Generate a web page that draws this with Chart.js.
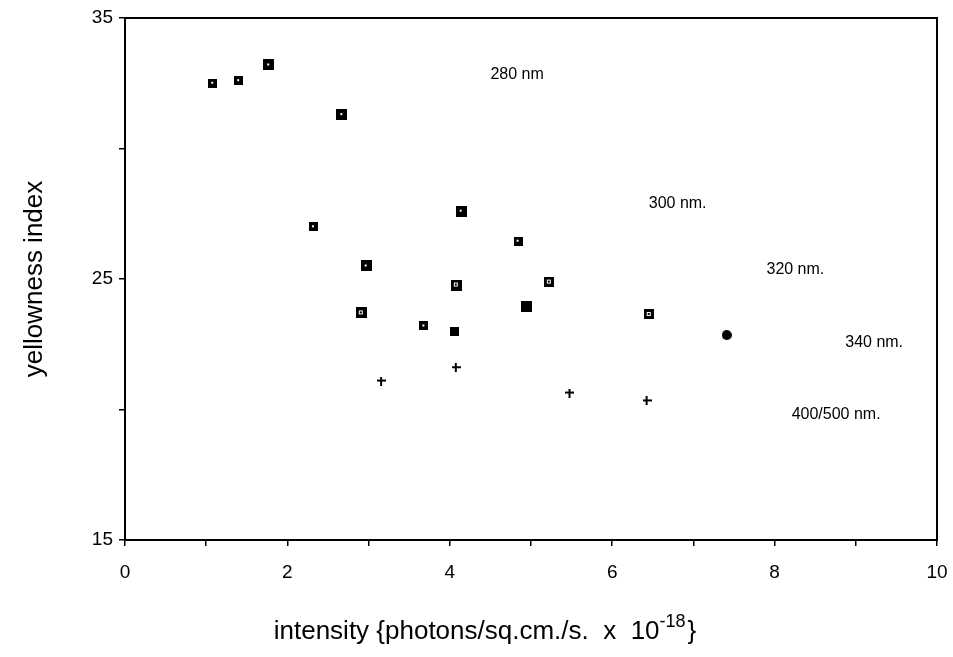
<!DOCTYPE html>
<html>
<head>
<meta charset="utf-8">
<script src="https://cdn.jsdelivr.net/npm/chart.js@4.4.0/dist/chart.umd.min.js"></script>
<style>
html,body{margin:0;padding:0;background:#fff;}
#wrap{width:953px;height:657px;}
</style>
</head>
<body>
<div id="wrap"><canvas id="c" width="953" height="657"></canvas></div>
<script>
// ---- data ----
const seriesNames = ['280 nm', '300 nm.', '320 nm.', '340 nm.', '400/500 nm.'];
const x280 = [1.08, 1.40, 1.77, 2.67];
const y280 = [32.5, 32.6, 33.2, 31.3];
const x300 = [2.32, 2.97, 4.14, 4.84];
const y300 = [27.0, 25.5, 27.6, 26.45];
const x320 = [2.91, 4.08, 5.22, 6.45];
const y320 = [23.7, 24.77, 24.9, 23.66];
const x340 = [3.68, 4.06, 4.94, 7.41];
const y340 = [23.2, 22.97, 23.93, 22.85];
const x400 = [3.16, 4.08, 5.48, 6.43];
const y400 = [21.09, 21.6, 20.63, 20.33];
const xTickLabels = ['0', '2', '4', '6', '8', '10'];
const yTickLabels = ['15', '25', '35'];
// where each series name is written (data coordinates)
const labelAnchorX = [4.50, 6.45, 7.90, 8.87, 8.21];
const labelAnchorY = [32.82, 27.9, 25.35, 22.55, 19.79];

// ---- styles ----
const FONT = '"Liberation Sans", Arial, Helvetica, sans-serif';
function marker(type, s) {
  const c = document.createElement('canvas');
  c.width = s; c.height = s;
  const g = c.getContext('2d');
  g.fillStyle = '#000';
  if (type === 'circle') {
    g.beginPath(); g.arc(s / 2, s / 2, s / 2, 0, Math.PI * 2); g.fill();
  } else if (type === 'cross') {
    const t = 2;
    g.fillRect(Math.floor(s / 2 - t / 2), 0, t, s);
    g.fillRect(0, Math.floor(s / 2 - t / 2), s, t);
  } else {
    g.fillRect(0, 0, s, s);
    g.fillStyle = '#fff';
    if (type === 'dot') {
      g.fillRect(Math.floor(s / 2) - 1, Math.floor(s / 2) - 1, 2, 2);
    } else if (type === 'ring') {
      g.fillRect(Math.floor(s / 2) - 2, Math.floor(s / 2) - 2, 4, 4);
      g.fillStyle = '#000';
      g.fillRect(Math.floor(s / 2) - 1, Math.floor(s / 2) - 1, 2, 2);
    }
  }
  return c;
}
const styles280 = [marker('dot', 9), marker('dot', 9), marker('dot', 11), marker('dot', 11)];
const styles300 = [marker('dot', 9), marker('dot', 11), marker('dot', 11), marker('dot', 9)];
const styles320 = [marker('ring', 11), marker('ring', 11), marker('ring', 10), marker('ring', 10)];
const styles340 = [marker('dot', 9), marker('solid', 9), marker('solid', 11), marker('circle', 10)];
const styles400 = [marker('cross', 9), marker('cross', 9), marker('cross', 9), marker('cross', 9)];

function pts(xs, ys) { return xs.map((x, i) => ({ x: x, y: ys[i] })); }
function ds(i, xs, ys, st) {
  return {
    label: seriesNames[i], data: pts(xs, ys), showLine: false,
    pointStyle: st, pointRadius: 5, pointHoverRadius: 5,
    backgroundColor: '#000', borderColor: '#000'
  };
}

const framePlugin = {
  id: 'frame',
  afterDraw(chart) {
    const { ctx, chartArea: a, scales } = chart;
    ctx.save();
    ctx.strokeStyle = '#000';
    ctx.lineWidth = 2;
    ctx.strokeRect(a.left, a.top, a.right - a.left, a.bottom - a.top);
    // series labels
    ctx.fillStyle = '#000';
    ctx.font = '16px ' + FONT;
    ctx.textAlign = 'left';
    ctx.textBaseline = 'middle';
    seriesNames.forEach((n, i) => {
      ctx.fillText(n, scales.x.getPixelForValue(labelAnchorX[i]), scales.y.getPixelForValue(labelAnchorY[i]));
    });
    // y title
    ctx.save();
    ctx.font = '26px ' + FONT;
    ctx.textAlign = 'center';
    ctx.textBaseline = 'middle';
    ctx.translate(35, 279);
    ctx.rotate(-Math.PI / 2);
    ctx.fillText('yellowness index', 0, 0);
    ctx.restore();
    // x title with superscript
    const main = 'intensity {photons/sq.cm./s.  x  10';
    const sup = '-18';
    const end = '}';
    ctx.font = '26px ' + FONT;
    const w1 = ctx.measureText(main).width;
    const w3 = ctx.measureText(end).width;
    ctx.font = '18px ' + FONT;
    const w2 = ctx.measureText(sup).width;
    const total = w1 + w2 + w3 + 2;
    let x0 = 485 - total / 2;
    const yb = 639;
    ctx.textAlign = 'left';
    ctx.textBaseline = 'alphabetic';
    ctx.font = '26px ' + FONT;
    ctx.fillText(main, x0, yb);
    ctx.font = '18px ' + FONT;
    ctx.fillText(sup, x0 + w1, yb - 12);
    ctx.font = '26px ' + FONT;
    ctx.fillText(end, x0 + w1 + w2 + 2, yb);
    ctx.restore();
  }
};

new Chart(document.getElementById('c'), {
  type: 'scatter',
  data: {
    datasets: [
      ds(0, x280, y280, styles280),
      ds(1, x300, y300, styles300),
      ds(2, x320, y320, styles320),
      ds(3, x340, y340, styles340),
      ds(4, x400, y400, styles400)
    ]
  },
  options: {
    responsive: false,
    animation: false,
    layout: { padding: { left: 0, right: 16, top: 18, bottom: 0 } },
    plugins: { legend: { display: false }, tooltip: { enabled: false } },
    scales: {
      x: {
        type: 'linear', min: 0, max: 10,
        afterFit(s) { s.height = 117; s.paddingLeft = 0; s.paddingRight = 0; },
        border: { display: true, color: '#000', width: 2 },
        grid: { display: true, drawOnChartArea: false, drawTicks: true, tickLength: 6, color: '#000', lineWidth: 1.5 },
        ticks: {
          stepSize: 1, color: '#000', padding: 15,
          font: { family: FONT, size: 19 },
          maxRotation: 0,
          autoSkip: false,
          callback: (v) => (v % 2 === 0 ? xTickLabels[v / 2] : '')
        }
      },
      y: {
        type: 'linear', min: 15, max: 35,
        afterFit(s) { s.width = 125; s.paddingTop = 0; s.paddingBottom = 0; },
        border: { display: true, color: '#000', width: 2 },
        grid: { display: true, drawOnChartArea: false, drawTicks: true, tickLength: 6, color: '#000', lineWidth: 1.5 },
        ticks: {
          stepSize: 5, color: '#000', padding: 6,
          font: { family: FONT, size: 19 },
          callback: (v) => (v % 10 === 5 ? yTickLabels[(v - 15) / 10] : '')
        }
      }
    }
  },
  plugins: [framePlugin]
});
</script>
</body>
</html>
